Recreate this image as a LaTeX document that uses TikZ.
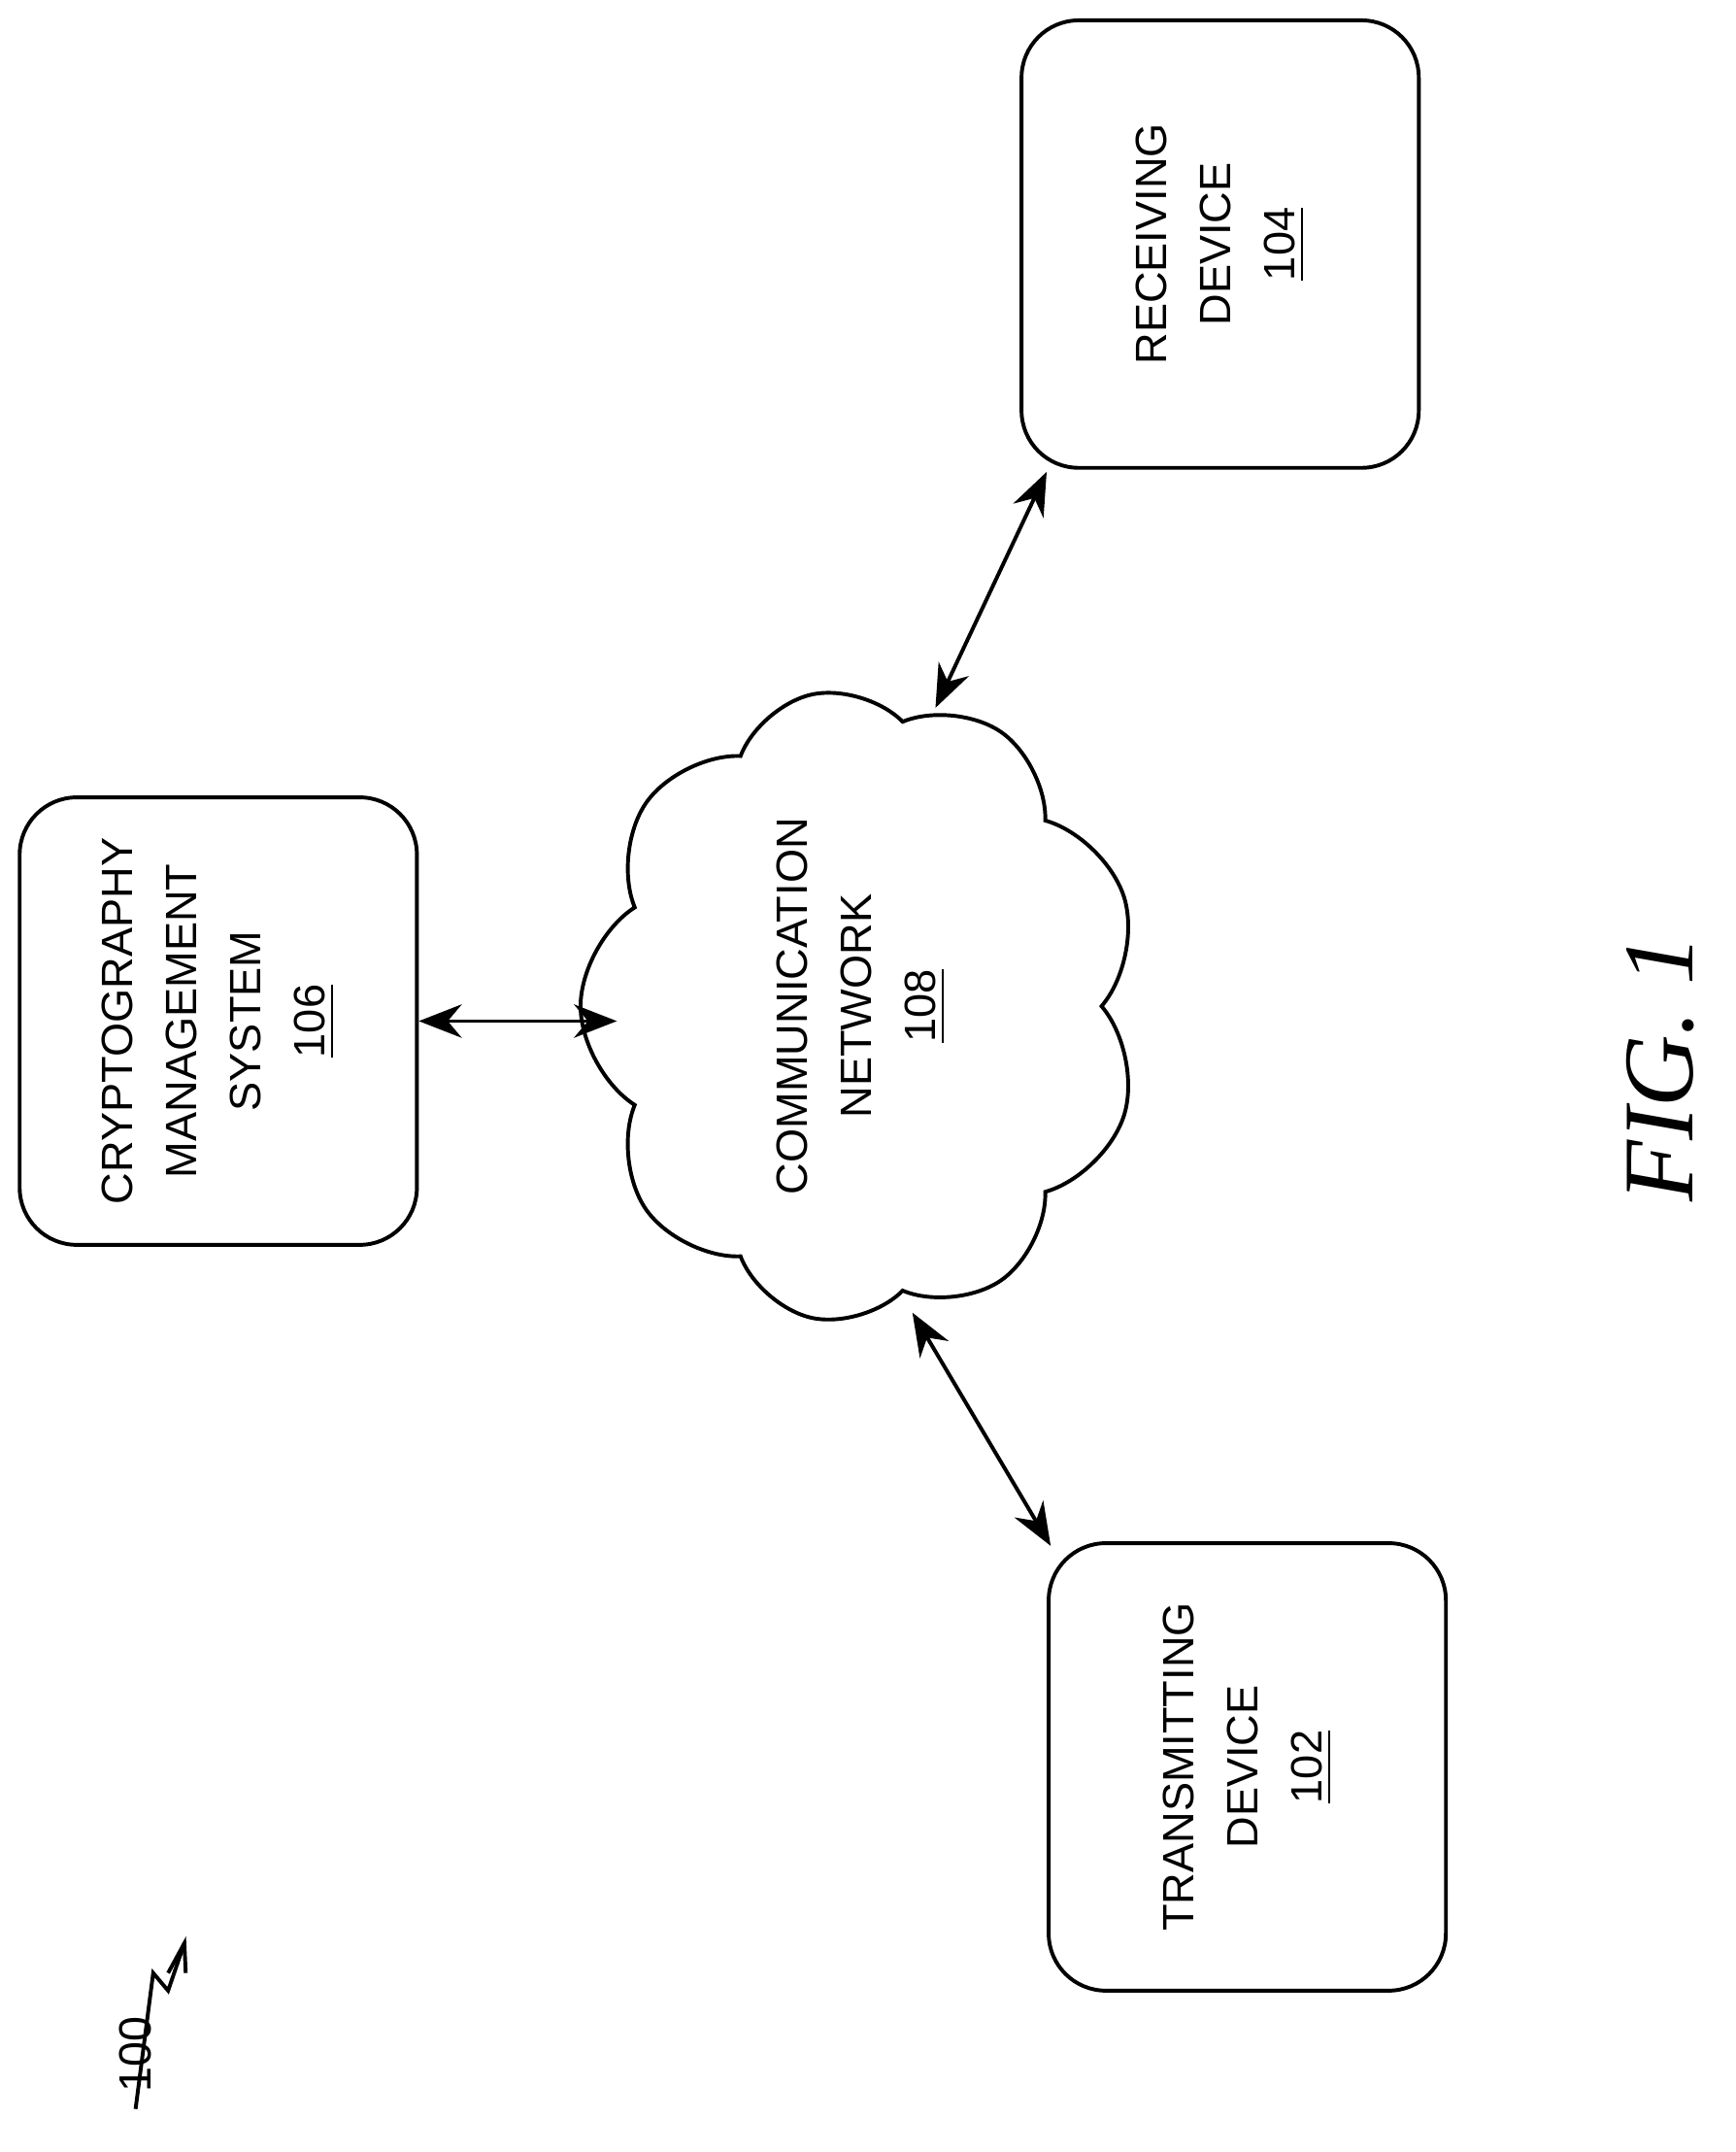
\documentclass[tikz,border=0pt]{standalone}
\usepackage{fontspec}
\setmainfont{Liberation Sans}
\newfontfamily\figfont{Liberation Serif}
\usetikzlibrary{shapes.symbols}
\usetikzlibrary{arrows.meta}
\usetikzlibrary{positioning}
\tikzset{dev/.style={draw,thick,rounded corners=12pt,rotate=90,align=center,
         minimum width=3.3cm,minimum height=2.93cm,font=\fontsize{9.2}{13.5}\selectfont},
         link/.style={thick,{Stealth[length=9pt,width=7pt]}-{Stealth[length=9pt,width=7pt]}}}

\begin{document}
\begin{tikzpicture}
	\useasboundingbox (0,0) rectangle (12.8,-15.87);
	\node[dev] (recv) at (9.0,-1.8) {RECEIVING\\DEVICE\\\underline{104}};
	\node[dev] (crypto) at (1.61,-7.53) {CRYPTOGRAPHY\\MANAGEMENT\\SYSTEM\\\underline{106}};
	\node[dev] (trans) at (9.2,-13.03) {TRANSMITTING\\DEVICE\\\underline{102}};
	\node[draw,thick,cloud,cloud puffs=9,cloud puff arc=115,aspect=1.2,rotate=90,align=center,
	      minimum width=4.3cm,minimum height=3.4cm,font=\fontsize{9.2}{13.5}\selectfont]
	      (net) at (6.35,-7.42) {COMMUNICATION\\NETWORK\\\underline{108}};
	
	\coordinate (r1) at (7.72,-3.48);
	\coordinate (r2) at (6.9,-5.22);
	\coordinate (t1) at (6.73,-9.68);
	\coordinate (t2) at (7.75,-11.4);
	\draw[link] (crypto) -- (4.55,-7.53);
	\draw[link] (r1) -- (r2);
	\draw[link] (t1) -- (t2);
	
	\node[rotate=90,font=\figfont\itshape\fontsize{21}{21}\selectfont] (fig) at (12.25,-7.88) {FIG. 1};
	\node[rotate=90,font=\fontsize{9.5}{11}\selectfont] (ref) at (1.0,-15.15) {100};
	\draw[thick] (ref.west) -- (1.13,-14.55) -- (1.24,-14.68) -- (1.36,-14.33);
	\draw[thick] (1.24,-14.55) -- (1.36,-14.33) -- (1.37,-14.55);
\end{tikzpicture}
\end{document}
